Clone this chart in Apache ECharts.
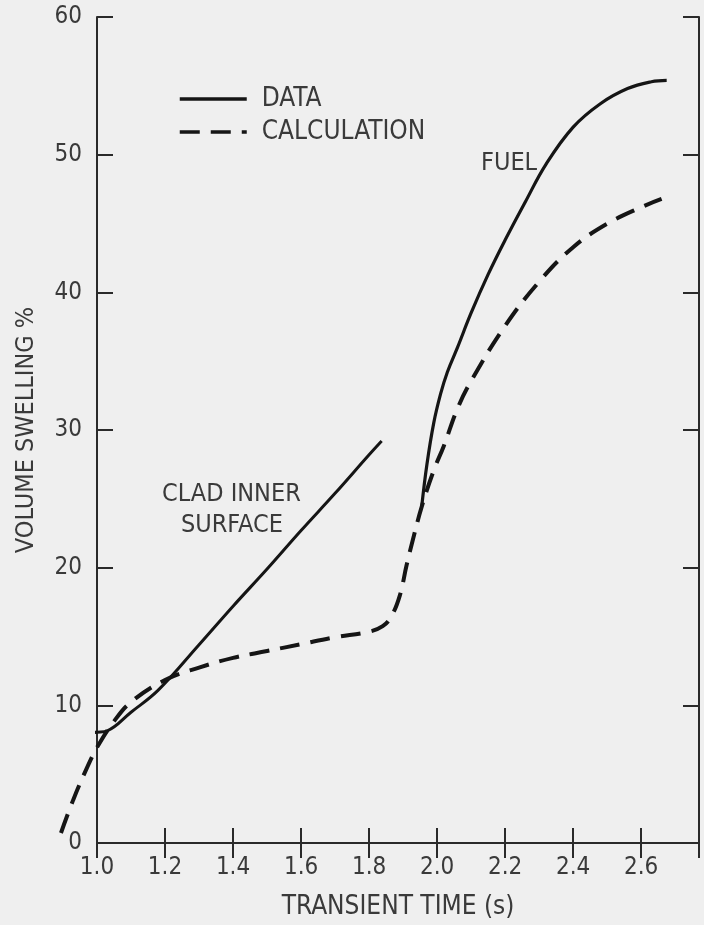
<!DOCTYPE html>
<html>
<head>
<meta charset="utf-8">
<script src="https://cdn.jsdelivr.net/npm/echarts@6/dist/echarts.min.js"></script>
<style>
  html, body { margin: 0; padding: 0; background: #efefef; }
  #chart { width: 704px; height: 925px; }
</style>
</head>
<body>
<div id="chart"></div>
<script>
// ---- data ----
const xTickLabels = ['1.0', '1.2', '1.4', '1.6', '1.8', '2.0', '2.2', '2.4', '2.6'];
const yTickLabels = ['0', '10', '20', '30', '40', '50', '60'];

// DATA: clad inner surface (solid)
const cladT = [0.975, 1.00, 1.03, 1.10, 1.18, 1.30, 1.40, 1.50, 1.60, 1.70, 1.80, 1.837];
const cladV = [8.0, 8.05, 8.15, 9.5, 11.1, 14.4, 17.2, 19.9, 22.7, 25.4, 28.2, 29.2];

// DATA: fuel (solid)
const fuelT = [1.955, 1.97, 1.99, 2.01, 2.03, 2.06, 2.10, 2.15, 2.20, 2.26, 2.32, 2.40, 2.48, 2.56, 2.63, 2.675];
const fuelV = [24.5, 27.5, 30.5, 32.6, 34.2, 36.0, 38.5, 41.3, 43.8, 46.6, 49.3, 52.0, 53.7, 54.8, 55.3, 55.4];

// CALCULATION (dashed)
const calcT = [0.894, 0.93, 0.97, 1.00, 1.05, 1.10, 1.20, 1.30, 1.40, 1.50, 1.60, 1.70, 1.80, 1.84, 1.865, 1.89, 1.91, 1.93, 1.955, 1.99, 2.02, 2.06, 2.10, 2.20, 2.30, 2.40, 2.50, 2.60, 2.66];
const calcV = [0.8, 3.2, 5.5, 7.0, 8.9, 10.3, 11.9, 12.8, 13.5, 14.0, 14.5, 15.0, 15.4, 15.8, 16.5, 18.0, 20.2, 22.2, 24.5, 27.1, 28.9, 31.6, 33.6, 37.6, 40.8, 43.3, 45.0, 46.2, 46.8];

const seriesNames = ['DATA', 'CALCULATION'];
const annotations = ['CLAD INNER', 'SURFACE', 'FUEL'];
const xName = 'TRANSIENT TIME (s)';
const yName = 'VOLUME SWELLING %';

// ---- build ----
const pairs = (t, v) => t.map((x, i) => [x, v[i]]);
const FONT = '"DejaVu Sans Condensed", "Liberation Sans Narrow", "Roboto Condensed", "DejaVu Sans", sans-serif';
const TXT = '#3a3a3a';
const INK = '#151515';
const AX = { color: '#2a2a2a', width: 2 };

// main plot frame
const X_MIN = 1.0, X_MAX = 2.77, GRID_L = 97, GRID_R = 5, GRID_T = 17, GRID_B = 81;
// wider helper grid (same pixel scale) so the calculation can start left of the frame
const X_MIN2 = 0.8;
const pxPerUnit = (704 - GRID_L - GRID_R) / (X_MAX - X_MIN);
const GRID2_L = Math.round(GRID_L - (X_MIN - X_MIN2) * pxPerUnit);

const chart = echarts.init(document.getElementById('chart'), null, { renderer: 'canvas' });

const xLabelFmt = v => {
  const s = (Math.round(v * 10) / 10).toFixed(1);
  return xTickLabels.indexOf(s) >= 0 && Math.abs(v * 10 - Math.round(v * 10)) < 1e-6 ? s : '';
};
const yLabelFmt = v => {
  const s = String(Math.round(v));
  return yTickLabels.indexOf(s) >= 0 ? s : '';
};

chart.setOption({
  backgroundColor: '#efefef',
  animation: false,
  grid: [
    { left: GRID_L, right: GRID_R, top: GRID_T, bottom: GRID_B, containLabel: false },
    { left: GRID2_L, right: GRID_R, top: GRID_T, bottom: GRID_B, containLabel: false }
  ],
  legend: {
    data: seriesNames,
    orient: 'vertical',
    left: 178,
    top: 86,
    padding: 0,
    itemWidth: 67,
    itemHeight: 14,
    itemGap: 7,
    itemStyle: { opacity: 0 },
    lineStyle: { width: 3.5 },
    textStyle: { fontFamily: FONT, fontSize: 26, color: TXT, padding: [0, 0, 0, 10] }
  },
  xAxis: [
    {
      gridIndex: 0, type: 'value', min: X_MIN, max: X_MAX, interval: 0.2,
      name: xName, nameLocation: 'middle', nameGap: 51,
      nameTextStyle: { fontFamily: FONT, fontSize: 26, color: TXT },
      axisLine: { show: true, lineStyle: AX },
      axisTick: { show: true, inside: true, length: 15, lineStyle: AX },
      axisLabel: { formatter: xLabelFmt, showMaxLabel: false, margin: 13, fontFamily: FONT, fontSize: 24, color: TXT },
      splitLine: { show: false }
    },
    {
      gridIndex: 0, type: 'value', position: 'top', min: X_MIN, max: X_MAX, interval: 0.2,
      axisLine: { show: true, lineStyle: AX },
      axisTick: { show: true, inside: true, length: 15, lineStyle: AX },
      axisLabel: { show: false },
      splitLine: { show: false }
    },
    {
      gridIndex: 1, type: 'value', min: X_MIN2, max: X_MAX, show: false
    }
  ],
  yAxis: [
    {
      gridIndex: 0, type: 'value', min: 0, max: 60, interval: 10,
      name: yName, nameLocation: 'middle', nameGap: 58, nameRotate: 90,
      nameTextStyle: { fontFamily: FONT, fontSize: 25, color: TXT },
      axisLine: { show: true, lineStyle: AX },
      axisTick: { show: true, inside: true, length: 16, lineStyle: AX },
      axisLabel: { formatter: yLabelFmt, margin: 15, fontFamily: FONT, fontSize: 24, color: TXT },
      splitLine: { show: false }
    },
    {
      gridIndex: 0, type: 'value', position: 'right', min: 0, max: 60, interval: 10,
      axisLine: { show: true, lineStyle: AX },
      axisTick: { show: true, inside: true, length: 16, lineStyle: AX },
      axisLabel: { show: false },
      splitLine: { show: false }
    },
    {
      gridIndex: 1, type: 'value', min: 0, max: 60, show: false
    }
  ],
  series: [
    {
      name: seriesNames[0], type: 'line', xAxisIndex: 0, yAxisIndex: 0,
      data: pairs(cladT, cladV), symbol: 'none', smooth: 0.4, clip: false,
      lineStyle: { color: INK, width: 3, type: 'solid' }, itemStyle: { color: INK }
    },
    {
      name: seriesNames[0], type: 'line', xAxisIndex: 0, yAxisIndex: 0,
      data: pairs(fuelT, fuelV), symbol: 'none', smooth: 0.4, clip: false,
      lineStyle: { color: INK, width: 3.2, type: 'solid' }, itemStyle: { color: INK }
    },
    {
      name: seriesNames[1], type: 'line', xAxisIndex: 2, yAxisIndex: 2,
      data: pairs(calcT, calcV), symbol: 'none', smooth: 0.4, clip: false,
      lineStyle: { color: INK, width: 4, type: [20, 11], cap: 'butt' }, itemStyle: { color: INK }
    }
  ],
  graphic: [
    {
      type: 'text', left: 162, top: 482,
      style: { text: annotations[0], font: '25px ' + FONT, fill: TXT }
    },
    {
      type: 'text', left: 181, top: 513,
      style: { text: annotations[1], font: '25px ' + FONT, fill: TXT }
    },
    {
      type: 'text', left: 481, top: 151,
      style: { text: annotations[2], font: '25px ' + FONT, fill: TXT }
    }
  ]
});
</script>
</body>
</html>
